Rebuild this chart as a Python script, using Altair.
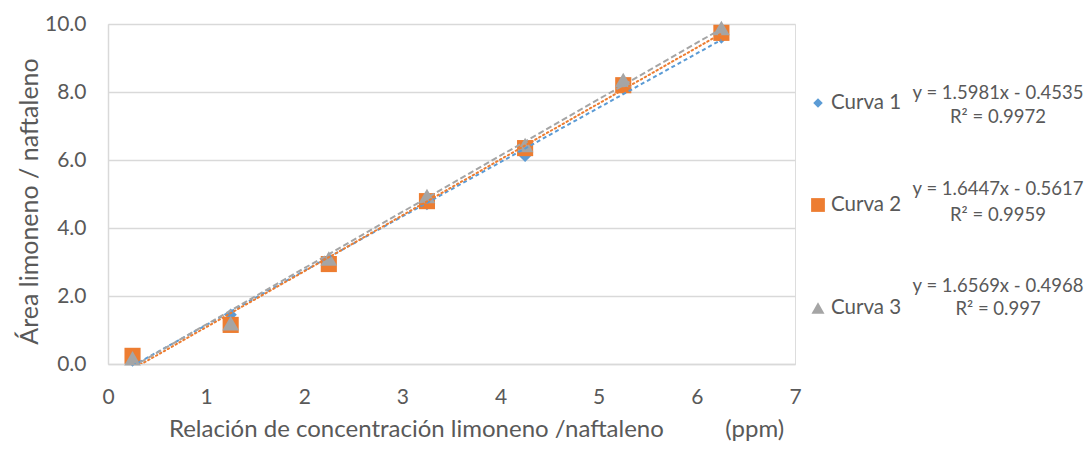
import altair as alt
import pandas as pd

# ---- data ----
x_vals = [0.25, 1.25, 2.25, 3.25, 4.25, 5.25, 6.25]
curva1 = [0.10, 1.45, 3.05, 4.70, 6.12, 8.10, 9.60]
curva2 = [0.24, 1.15, 2.94, 4.79, 6.35, 8.20, 9.74]
curva3 = [0.17, 1.20, 3.10, 4.94, 6.44, 8.35, 9.88]
series_names = ["Curva 1", "Curva 2", "Curva 3"]
slopes = [1.5981, 1.6447, 1.6569]
intercepts = [-0.4535, -0.5617, -0.4968]
eq_line1 = ["y = 1.5981x - 0.4535", "y = 1.6447x - 0.5617", "y = 1.6569x - 0.4968"]
eq_line2 = ["R² = 0.9972", "R² = 0.9959", "R² = 0.997"]
x_ticks = [0, 1, 2, 3, 4, 5, 6, 7]
y_ticks = [0, 2, 4, 6, 8, 10]

# ---- styling ----
colors = ["#5B9BD5", "#ED7D31", "#A5A5A5"]
shapes = ["diamond", "square", "triangle-up"]
sizes = [150, 260, 280]
legend_sizes = [90, 190, 170]
dashes = [[4, 3], [1.5, 3], [6, 3]]
caps = ["butt", "round", "butt"]
FONT = "Lato"
TXT = "#595959"
GRID = "#d9d9d9"
W, H = 687, 340

x_title = "Relación de concentración limoneno /naftaleno" + "\u00a0" * 10 + "(ppm)"


def xenc():
    return alt.X(
        "x:Q",
        scale=alt.Scale(domain=[0, 7], nice=False, zero=False),
        axis=alt.Axis(
            values=x_ticks, format="d", grid=False, ticks=False, labelFlush=False,
            domainColor=GRID, domainWidth=1.5,
            labelPadding=22, labelFontSize=21, labelFont=FONT, labelColor=TXT,
            title=x_title, titleFontSize=24, titleFont=FONT, titleColor=TXT,
            titleFontWeight="normal", titlePadding=10, titleX=368,
        ),
    )


def yenc():
    return alt.Y(
        "y:Q",
        scale=alt.Scale(domain=[0, 10], nice=False),
        axis=alt.Axis(
            values=y_ticks, format=".1f", grid=True, gridColor=GRID, gridWidth=1.5,
            ticks=False, labelFlush=False, domainColor=GRID, domainWidth=1.5,
            labelPadding=22, labelFontSize=21, labelFont=FONT, labelColor=TXT,
            title="Área limoneno / naftaleno", titleFontSize=25, titleFont=FONT,
            titleColor=TXT, titleFontWeight="normal", titlePadding=2, titleY=177,
        ),
    )


series_vals = [curva1, curva2, curva3]
point_layers = []
line_layers = []
for i, vals in enumerate(series_vals):
    df = pd.DataFrame({"x": x_vals, "y": vals})
    point_layers.append(
        alt.Chart(df).mark_point(
            shape=shapes[i], filled=True, size=sizes[i], color=colors[i],
            opacity=1, strokeWidth=0,
        ).encode(x=xenc(), y=yenc())
    )
    xs = [min(x_vals), max(x_vals)]
    tdf = pd.DataFrame({"x": xs, "y": [slopes[i] * v + intercepts[i] for v in xs]})
    line_layers.append(
        alt.Chart(tdf).mark_line(
            color=colors[i], strokeWidth=2, strokeDash=dashes[i],
            strokeCap=caps[i], clip=True,
        ).encode(x=xenc(), y=yenc())
    )

# ---- custom legend with trendline equations ----
one = pd.DataFrame({"k": [0]})
legend_layers = []
sym_x = 710
lab_x = 723
eq_x = 890
label_y = [79, 181, 284]
eq1_y = [69, 165, 262]
eq2_y = [93, 191, 285]
for i in range(3):
    legend_layers.append(
        alt.Chart(one).mark_point(
            shape=shapes[i], filled=True, size=legend_sizes[i], color=colors[i],
            opacity=1, strokeWidth=0,
        ).encode(x=alt.value(sym_x), y=alt.value(label_y[i]))
    )
    legend_layers.append(
        alt.Chart(one).mark_text(
            text=series_names[i], align="left", baseline="middle",
            font=FONT, fontSize=20.5, color=TXT,
        ).encode(x=alt.value(lab_x), y=alt.value(label_y[i]))
    )
    legend_layers.append(
        alt.Chart(one).mark_text(
            text=eq_line1[i], align="center", baseline="middle",
            font=FONT, fontSize=18.5, color=TXT,
        ).encode(x=alt.value(eq_x), y=alt.value(eq1_y[i]))
    )
    legend_layers.append(
        alt.Chart(one).mark_text(
            text=eq_line2[i], align="center", baseline="middle",
            font=FONT, fontSize=18.5, color=TXT,
        ).encode(x=alt.value(eq_x), y=alt.value(eq2_y[i]))
    )

chart = alt.layer(*point_layers, *line_layers, *legend_layers).properties(
    width=W, height=H,
    autosize=alt.AutoSizeParams(type="none"),
    padding={"left": 100, "top": 16, "right": 289, "bottom": 77},
).configure_view(stroke=None).configure(background="white")

chart.save("out.html", embed_options={"renderer": "svg", "actions": False})
